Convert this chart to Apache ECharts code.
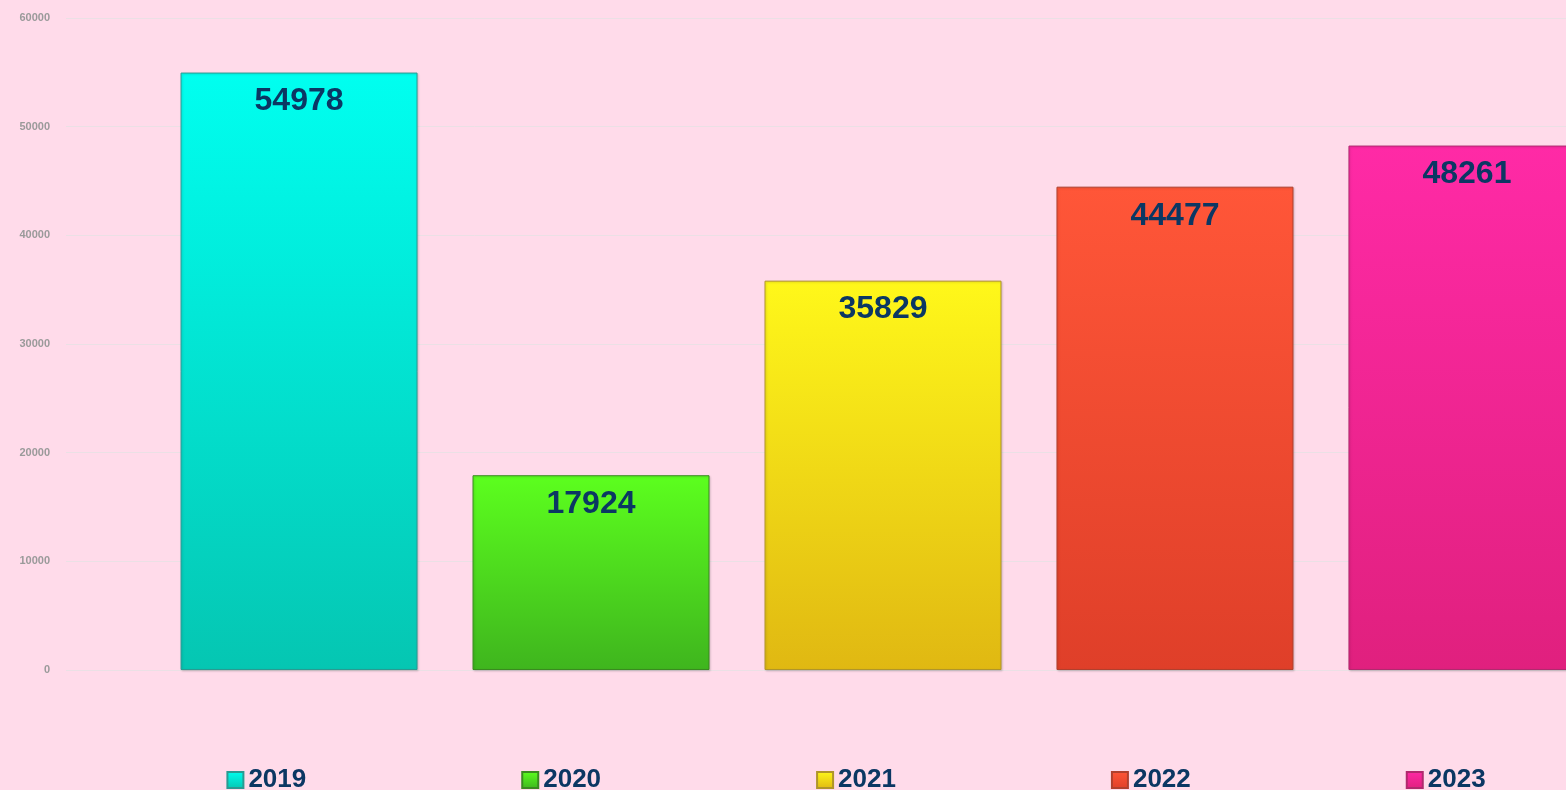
<!DOCTYPE html>
<html>
<head>
<meta charset="utf-8">
<script src="https://cdn.jsdelivr.net/npm/echarts@6/dist/echarts.min.js"></script>
<style>
    html, body { margin: 0; padding: 0; overflow: hidden; background: #ffdbea; }
    #main { width: 1712px; height: 790px; }
</style>
</head>
<body>
<div id="main"></div>
<script>
// 年份 + 数值
var years = ['2019', '2020', '2021', '2022', '2023'];
var values = [54978, 17924, 35829, 44477, 48261];
var yTicks = [0, 10000, 20000, 30000, 40000, 50000, 60000];
// 每年的渐变色：上亮下暗 + 边框
var topColors = ['#00fff0', '#5cff1e', '#fff81a', '#ff5638', '#ff2aa6'];
var bottomColors = ['#05c6b2', '#3fb51e', '#e0b812', '#df3f29', '#e0207e'];
var borderColors = ['#2a9a92', '#3a8a20', '#b0952a', '#b0402e', '#b02a6e'];

var chart = echarts.init(document.getElementById('main'));

var series = [];
for (var i = 0; i < years.length; i++) {
    series.push({
        name: years[i],
        type: 'bar',
        barWidth: 237,
        barGap: '23.2%',
        data: [values[i]],
        itemStyle: {
            color: new echarts.graphic.LinearGradient(0, 0, 0, 1, [
                { offset: 0, color: topColors[i] },
                { offset: 1, color: bottomColors[i] }
            ]),
            borderColor: borderColors[i],
            borderWidth: 1,
            shadowColor: 'rgba(0,0,0,0.15)',
            shadowBlur: 2,
            shadowOffsetX: 1,
            shadowOffsetY: 1
        },
        label: {
            show: true,
            position: 'insideTop',
            distance: 13,
            color: '#0b3763',
            fontSize: 32,
            fontWeight: 'bold',
            fontFamily: 'Liberation Sans, Arial, sans-serif'
        }
    });
}

var option = {
    backgroundColor: '#ffdbea',
    animation: false,
    grid: {
        left: 66,
        right: 12,
        top: 18,
        bottom: 120
    },
    legend: {
        data: years,
        top: 767,
        left: 'center',
        padding: 0,
        icon: 'rect',
        itemWidth: 16,
        itemHeight: 16,
        itemGap: 215,
        textStyle: {
            color: '#0b3763',
            fontSize: 26,
            fontWeight: 'bold',
            fontFamily: 'Liberation Sans, Arial, sans-serif'
        }
    },
    xAxis: {
        type: 'category',
        data: [''],
        axisLine: { show: false },
        axisTick: { show: false },
        axisLabel: { show: false }
    },
    yAxis: {
        type: 'value',
        min: yTicks[0],
        max: yTicks[yTicks.length - 1],
        interval: 10000,
        axisLine: { show: false },
        axisTick: { show: false },
        axisLabel: {
            margin: 16,
            color: '#9a9a9a',
            fontSize: 11,
            fontWeight: 'bold',
            fontFamily: 'Liberation Sans, Arial, sans-serif',
            formatter: function (v) { return String(v); }
        },
        splitLine: {
            lineStyle: { color: '#ebe0e5', width: 1 }
        }
    },
    series: series
};
chart.setOption(option);
</script>
</body>
</html>
